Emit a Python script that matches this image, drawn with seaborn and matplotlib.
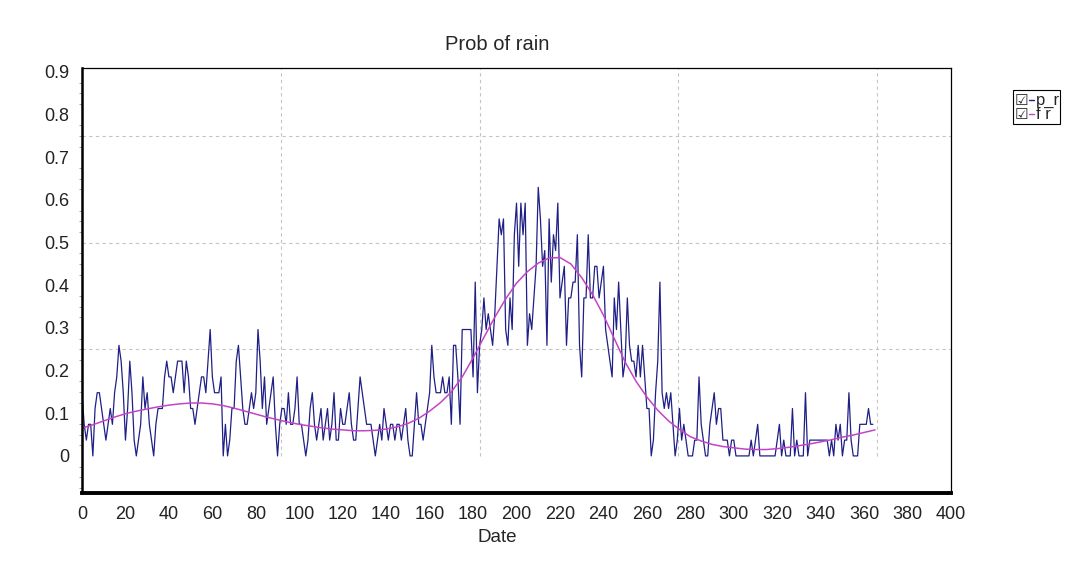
import numpy as np
import pandas as pd
import matplotlib
matplotlib.use('Agg')
import matplotlib.pyplot as plt
from matplotlib import font_manager
from matplotlib.lines import Line2D
from matplotlib.patches import Rectangle
from matplotlib.ticker import MultipleLocator
import seaborn as sns

# p_r: number of rainy years (out of 27) for each day
n_years = 27
rain_counts = [
    4, 2, 1, 2, 2, 0, 3, 4, 4, 3, 2, 1, 2, 3, 2, 4, 5, 7, 6, 4,
    1, 3, 6, 4, 1, 0, 1, 2, 5, 3, 4, 2, 1, 0, 2, 3, 3, 3, 5, 6,
    5, 5, 4, 5, 6, 6, 6, 4, 6, 5, 3,
    3, 2, 3, 4, 5, 5, 4, 6, 8, 5, 4, 4, 4, 5, 0, 2, 0, 1, 3, 3,
    6, 7, 5, 3, 2, 2, 3, 4, 3, 4, 8, 6, 3, 5, 2, 3, 4, 5, 2, 0,
    2, 3, 3, 2, 4, 2, 2, 3, 5, 2,
    2, 1, 0, 1, 3, 4, 2, 1, 2, 3, 1, 2, 3, 1, 2, 4, 1, 1, 3, 2,
    2, 3, 4, 2, 1, 1, 3, 5, 4, 3, 2, 2, 2, 1, 0, 1, 2, 1, 3, 2,
    1, 2, 2, 1, 2, 2, 1, 2, 3, 1,
    0, 0, 2, 4, 2, 2, 1, 2, 3, 4, 7, 5, 4, 4, 4, 5, 4, 4, 5, 2,
    7, 7, 5, 2, 8, 8, 8, 8, 8, 5, 11, 4, 7, 8, 10, 8, 9, 8, 7, 9,
    12, 15, 14, 15, 8, 7, 10, 8, 14, 16,
    12, 16, 14, 16, 7, 9, 8, 10, 12, 17, 15, 12, 13, 7, 15, 11, 14, 13, 16, 10,
    11, 12, 7, 10, 10, 11, 11, 14, 7, 5, 10, 10, 14, 10, 10, 12, 12, 10, 11, 12,
    8, 7, 6, 5, 10, 8, 11, 8, 5, 6,
    10, 7, 6, 6, 5, 7, 5, 7, 5, 3, 3, 0, 1, 4, 6, 11, 4, 3, 4, 3,
    4, 2, 0, 1, 3, 1, 2, 1, 0, 0, 0, 1, 1, 5, 2, 1, 0, 0, 2, 3,
    4, 2, 3, 3, 1, 1, 1, 0, 1, 1,
    0, 0, 0, 0, 0, 0, 0, 1, 0, 1, 2, 0, 0, 0, 0, 0, 0, 0, 0, 1,
    2, 0, 1, 0, 0, 0, 3, 0, 1, 0, 0, 0, 4, 0, 1, 1, 1, 1, 1, 1,
    1, 1, 1, 0, 1, 0, 2, 1, 2, 0, 1, 1, 4, 1, 0, 0, 0, 2, 2, 2,
    2, 3, 2, 2,
]

# f_r: fitted curve, read every 5 days
fr_days = list(range(0, 366, 5))
fr_values = [
    0.065, 0.073, 0.082, 0.091, 0.099, 0.105, 0.110, 0.115, 0.119, 0.122,
    0.124, 0.124, 0.122, 0.118, 0.112, 0.105, 0.098, 0.091, 0.085, 0.079,
    0.074, 0.070, 0.066, 0.063, 0.061, 0.059, 0.059, 0.060, 0.063, 0.068,
    0.076, 0.088, 0.105, 0.125, 0.150, 0.185, 0.230, 0.278, 0.325, 0.368,
    0.405, 0.432, 0.452, 0.464, 0.465, 0.450, 0.418, 0.378, 0.330, 0.275,
    0.220, 0.175, 0.138, 0.107, 0.082, 0.062, 0.045, 0.035, 0.027, 0.022,
    0.019, 0.016, 0.015, 0.015, 0.017, 0.020, 0.024, 0.028, 0.033, 0.038,
    0.044, 0.049, 0.055, 0.061,
]

x_ticks = list(range(0, 401, 20))
y_ticks = [0, 0.1, 0.2, 0.3, 0.4, 0.5, 0.6, 0.7, 0.8, 0.9]
y_labels = ['0', '0.1', '0.2', '0.3', '0.4', '0.5', '0.6', '0.7', '0.8', '0.9']
grid_x = [91.5, 183, 274.5, 366]
grid_y = [0.25, 0.5, 0.75]

df_p = pd.DataFrame({'day': np.arange(len(rain_counts)),
                     'p_r': np.array(rain_counts) / n_years})
df_f = pd.DataFrame({'day': fr_days, 'f_r': fr_values})

sns.set_style('white')
names = {f.name for f in font_manager.fontManager.ttflist}
main_font = 'Liberation Sans Narrow' if 'Liberation Sans Narrow' in names else 'Liberation Sans'
plt.rcParams['font.family'] = [main_font, 'DejaVu Sans']

fig = plt.figure(figsize=(10.65, 5.68), dpi=100)
ax = fig.add_axes([0.077, 0.132, 0.816, 0.748])

y_top = 0.909
# dashed grid
for gy in grid_y:
    ax.axhline(gy, color='#c4c4c4', lw=0.8, ls=(0, (3, 3)), zorder=0)
ax.vlines(grid_x, 0, y_top, color='#c4c4c4', lw=0.8, ls=(0, (3, 3)), zorder=0)

sns.lineplot(data=df_p, x='day', y='p_r', color='#1f1f86', lw=0.9, ax=ax)
sns.lineplot(data=df_f, x='day', y='f_r', color='#c444c8', lw=1.1, ax=ax)

ax.set_xlim(0, 400)
ax.set_ylim(-0.087, y_top)
ax.set_xticks(x_ticks)
ax.set_yticks(y_ticks)
ax.set_yticklabels(y_labels)
ax.yaxis.set_minor_locator(MultipleLocator(0.025))
ax.tick_params(axis='both', which='major', direction='out', length=6, width=0.8,
               color='#333333', labelsize=13, pad=3, labelcolor='#222222')
ax.tick_params(axis='y', which='minor', direction='out', length=2, width=0.5,
               color='#777777', left=True)

for side in ['top', 'right']:
    ax.spines[side].set_linewidth(0.9)
    ax.spines[side].set_color('black')
ax.spines['left'].set_linewidth(1.8)
ax.spines['left'].set_color('black')
ax.spines['bottom'].set_linewidth(2.8)
ax.spines['bottom'].set_color('black')

ax.set_title('Prob of rain', fontsize=14.5, x=0.4776, pad=13)
ax.set_xlabel('Date', fontsize=13.5, labelpad=5)
ax.xaxis.label.set_x(0.4776)
ax.set_ylabel('')

# legend with check boxes, drawn by hand in pixel space
W, H = 1065, 568
fig.patches.append(Rectangle((1013 / W, 1 - 124 / H), 47 / W, 34 / H, transform=fig.transFigure,
                             fill=False, edgecolor='black', lw=0.8))
for row_y, color, label in [(100, '#1f1f86', 'p_r'), (114, '#c444c8', 'f r')]:
    fig.text(1015 / W, 1 - row_y / H, '\u2611', fontsize=11, va='center', ha='left',
             family='DejaVu Sans')
    fig.lines.append(Line2D([1029 / W, 1034 / W], [1 - row_y / H, 1 - row_y / H],
                            transform=fig.transFigure, color=color, lw=1))
    fig.text(1036 / W, 1 - row_y / H, label, fontsize=12, va='center', ha='left')

fig.savefig('out.png', dpi=100)
